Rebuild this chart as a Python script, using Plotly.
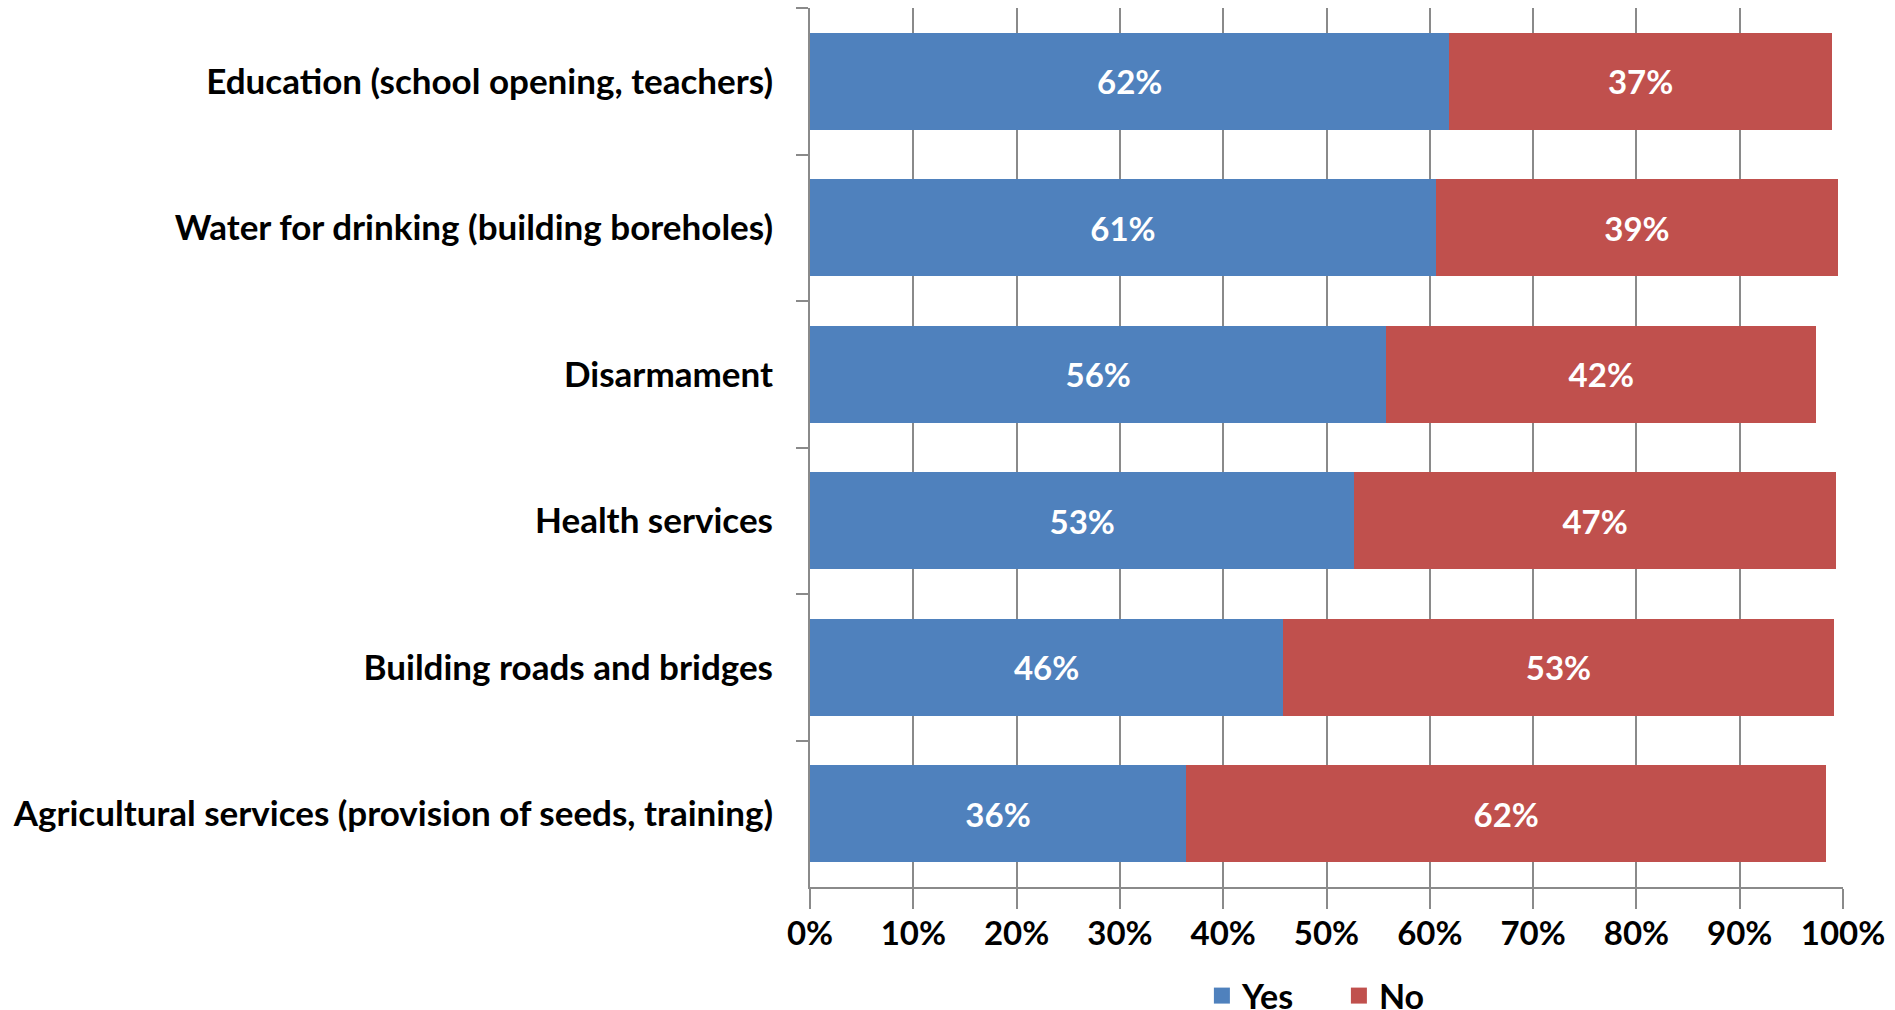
import plotly.graph_objects as go

categories = [
    "Education (school opening, teachers)",
    "Water for drinking (building boreholes)",
    "Disarmament",
    "Health services",
    "Building roads and bridges",
    "Agricultural services (provision of seeds, training)",
]
yes_values = [61.9, 60.6, 55.8, 52.7, 45.8, 36.4]
no_values = [37.0, 38.9, 41.6, 46.6, 53.3, 62.0]
x_ticks = [0, 10, 20, 30, 40, 50, 60, 70, 80, 90, 100]
x_tick_labels = [f"{v}%" for v in x_ticks]

BLUE = "#4F81BD"
RED = "#C0504D"
GRID = "#8A8A8A"
FONT = "Lato"

fig = go.Figure()
for name, vals, color in [("Yes", yes_values, BLUE), ("No", no_values, RED)]:
    fig.add_trace(go.Bar(
        y=categories, x=vals, orientation="h", name=name,
        marker=dict(color=color, line=dict(width=0)),
        text=[f"{round(v):.0f}%" for v in vals],
        textposition="inside", insidetextanchor="middle",
        textfont=dict(color="white", size=33, family=FONT, weight="bold"),
        constraintext="none", showlegend=False,
    ))
    fig.add_trace(go.Scatter(
        x=[None], y=[None], mode="markers", name=name,
        marker=dict(symbol="square", size=20, color=color),
        showlegend=True,
    ))

fig.update_layout(
    width=1895, height=1010,
    barmode="stack", bargap=0.34,
    plot_bgcolor="white", paper_bgcolor="white",
    margin=dict(l=810, r=52, t=8, b=123, autoexpand=False),
    font=dict(family=FONT, size=33, color="black", weight="bold"),
    legend=dict(orientation="h", x=0.512, xanchor="center", y=-0.124, yanchor="middle",
                font=dict(size=34, family=FONT, weight="bold"), itemwidth=30,
                entrywidth=92, entrywidthmode="pixels",
                traceorder="normal", tracegroupgap=0),
    xaxis=dict(range=[0, 100], tickvals=x_ticks, ticktext=x_tick_labels,
               showgrid=True, gridcolor=GRID, gridwidth=2,
               showline=True, linecolor=GRID, linewidth=2,
               ticks="outside", ticklen=20, tickcolor=GRID, tickwidth=2,
               ticklabelstandoff=-4, zeroline=False,
               tickfont=dict(size=33, family=FONT, weight="bold")),
    yaxis=dict(autorange=False, range=[5.5, -0.5], type="category",
               showgrid=False, showline=True, linecolor=GRID, linewidth=2,
               ticks="outside", ticklen=12, tickcolor=GRID, tickwidth=2,
               tickson="boundaries", ticklabelstandoff=28,
               tickfont=dict(size=35, family=FONT, weight="bold")),
)

fig.write_html("out.html", config={"displayModeBar": False},
               post_script="document.body.style.margin='0';document.body.style.overflow='hidden';")
